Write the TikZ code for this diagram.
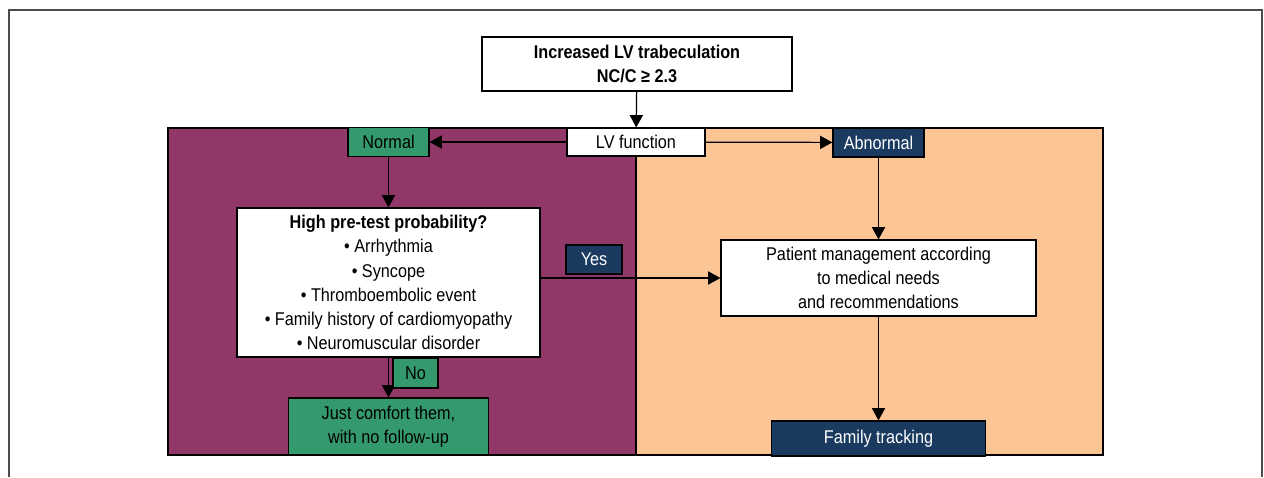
\documentclass[tikz,border=0pt]{standalone}
\usepackage{fontspec}
\setmainfont[FakeStretch=0.88]{Liberation Sans}
\usetikzlibrary{arrows.meta}

\definecolor{panelpurple}{RGB}{145,56,104}
\definecolor{panelorange}{RGB}{252,197,149}
\definecolor{boxgreen}{RGB}{52,154,110}
\definecolor{boxblue}{RGB}{27,58,96}

\begin{document}
\begin{tikzpicture}[
    x=0.02cm, y=-0.02cm,
    font=\fontsize{10.5}{13.7}\selectfont,
    box/.style={draw=black, line width=0.7pt, fill=white, align=center, inner sep=0pt},
    greenbox/.style={box, fill=boxgreen},
    bluebox/.style={box, fill=boxblue, text=white},
    conn/.style={line width=0.7pt, -{Triangle[length=7pt, width=7.5pt]}}
]
  \useasboundingbox (0,0) rectangle (1264,477);

  % figure frame (open at the bottom)
  \draw[black!70, line width=0.9pt] (9,477) -- (9,10) -- (1262,10) -- (1262,477);

  % Background panels
  \draw[line width=0.8pt, fill=panelpurple] (168,128) rectangle (636,455);
  \draw[line width=0.8pt, fill=panelorange] (636,128) rectangle (1103,455);

  % Nodes
  \node[box, font=\fontsize{10.5}{13.7}\selectfont\bfseries, minimum width=6.2cm, minimum height=1.08cm] (top) at (637,64)
    {Increased LV trabeculation\\NC/C \symbol{"2265} 2.3};
  \node[box, minimum width=2.76cm, minimum height=0.56cm] (lvf) at (636,142) {LV function};
  \node[greenbox, minimum width=1.62cm, minimum height=0.58cm] (normal) at (388.5,142) {Normal};
  \node[bluebox, minimum width=1.82cm, minimum height=0.58cm] (abnormal) at (878.5,142.5) {Abnormal};

  \node[box, minimum width=6.06cm, minimum height=2.98cm] (high) at (388.5,282.5)
    {\textbf{High pre-test probability?}\\
     \textbullet\ Arrhythmia\\
     \textbullet\ Syncope\\
     \textbullet\ Thromboembolic event\\
     \textbullet\ Family history of cardiomyopathy\\
     \textbullet\ Neuromuscular disorder};
  \node[greenbox, minimum width=4cm, minimum height=1.14cm] (comfort) at (388.5,426.5)
    {Just comfort them,\\with no follow-up};

  \node[box, minimum width=6.3cm, minimum height=1.52cm] (patient) at (878.5,278)
    {Patient management according\\to medical needs\\and recommendations};
  \node[bluebox, minimum width=4.28cm, minimum height=0.7cm] (family) at (878.5,438.5) {Family tracking};

  % Connectors
  \draw[conn] (top) -- (lvf);
  \draw[conn] (lvf) -- (normal);
  \draw[conn] (lvf) -- (abnormal);
  \draw[conn] (normal) -- (high);
  \draw[conn] (high.south) -- (comfort.north);
  \draw[conn] (patient.west -| high.east) -- (patient.west);
  \draw[conn] (abnormal) -- (patient);
  \draw[conn] (patient) -- (family);

  % Answer labels
  \node[bluebox, minimum width=1.12cm, minimum height=0.58cm] (yes) at (594,259.5) {Yes};
  \node[greenbox, minimum width=0.9cm, minimum height=0.6cm] (no) at (415.5,373) {No};

\end{tikzpicture}
\end{document}
